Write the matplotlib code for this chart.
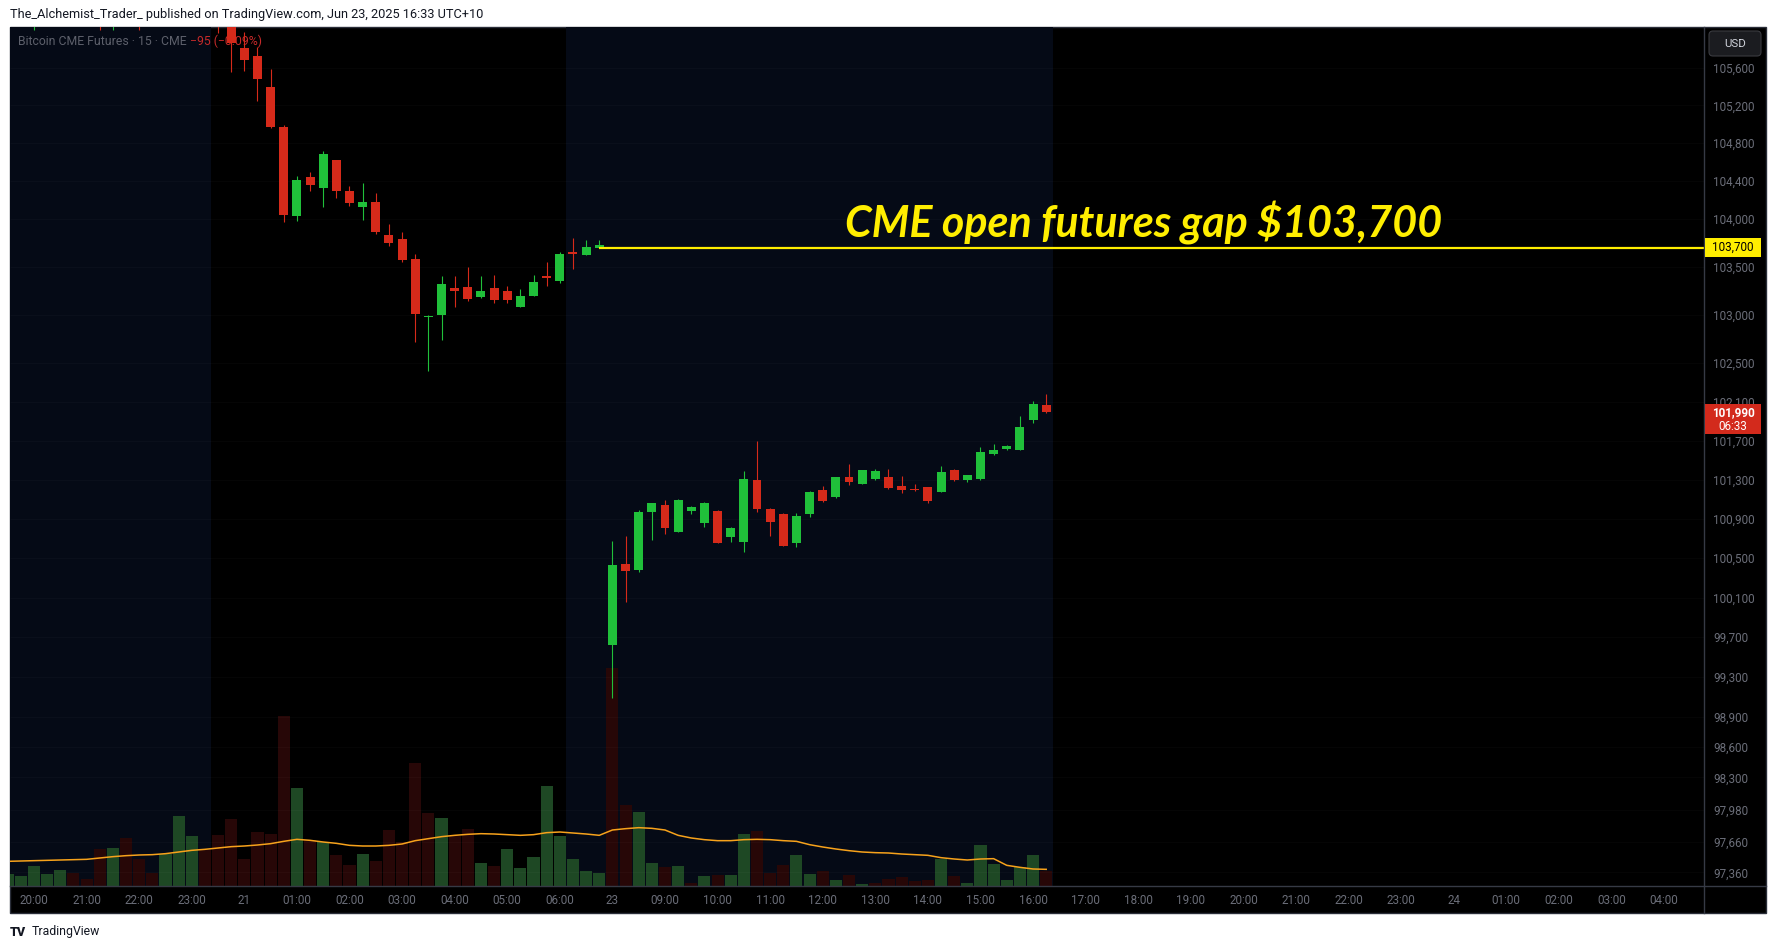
import matplotlib
matplotlib.use("Agg")
import matplotlib.pyplot as plt
import matplotlib.ticker as mticker
from matplotlib.patches import Rectangle, FancyBboxPatch
from matplotlib.transforms import Affine2D
import numpy as np

W, H = 1776, 949

# 15-minute bars of Bitcoin CME futures. Bar 0 is 20:00 on Jun 20 (UTC+10);
# the Friday session ends after bar 43 and bar 44 is the Monday 08:00 open.
first_bar = -2
opens = [106280, 106340, 106150, 106420, 106460, 106500, 106430, 106400, 106180, 106300,
         106200, 106090, 106070, 106150, 106250, 106300, 106120, 106040, 105808, 105726,
         105395, 104971, 104035, 104442, 104330, 104621, 104294, 104130, 104179, 103832,
         103790, 103581, 102972, 103000, 103278, 103288, 103184, 103278, 103247, 103077,
         103198, 103393, 103354, 103644, 103626, 103699, 99622, 100440, 100379, 100968,
         101040, 100764, 100978, 100856, 100978, 100714, 100663, 101295, 100999, 100948,
         100653, 100948, 101193, 101121, 101326, 101254, 101305, 101326, 101234, 101198,
         101223, 101172, 101397, 101295, 101305, 101561, 101613, 101603, 101911, 102065]
highs = [106420, 106450, 106470, 106520, 106560, 106540, 106470, 106440, 106360, 106330,
         106250, 106150, 106200, 106300, 106350, 106320, 106160, 106080, 105986, 105818,
         105584, 104992, 104452, 104495, 104717, 104625, 104347, 104379, 104273, 103947,
         103863, 103637, 102997, 103403, 103403, 103497, 103403, 103414, 103299, 103268,
         103414, 103549, 103654, 103800, 103780, 103780, 100673, 100724, 100989, 101065,
         101091, 101101, 101030, 101070, 100985, 100816, 101387, 101695, 101005, 100955,
         100958, 101178, 101234, 101330, 101459, 101402, 101408, 101408, 101336, 101254,
         101226, 101438, 101408, 101350, 101633, 101664, 101654, 101952, 102106, 102178]
lows = [106240, 106300, 106005, 106380, 106410, 106380, 106350, 106000, 106005, 106080,
        106000, 106050, 106050, 106100, 106200, 106060, 105968, 105559, 105569, 105250,
        104965, 103965, 103983, 104298, 104130, 104224, 104140, 103993, 103846, 103720,
        103553, 102720, 102420, 102741, 103083, 103146, 103174, 103125, 103125, 103077,
        103198, 103302, 103334, 103480, 103619, 103695, 99093, 100055, 100359, 100683,
        100744, 100760, 100948, 100816, 100650, 100663, 100561, 100968, 100724, 100618,
        100612, 100917, 101075, 101116, 101244, 101250, 101300, 101208, 101162, 101186,
        101060, 101168, 101290, 101275, 101300, 101556, 101603, 101598, 101880, 101985]
closes = [106340, 106380, 106420, 106460, 106500, 106430, 106400, 106180, 106300, 106200,
          106090, 106070, 106150, 106250, 106300, 106120, 106040, 105868, 105687, 105484,
          104974, 104045, 104410, 104358, 104685, 104298, 104172, 104179, 103867, 103752,
          103574, 103011, 102983, 103320, 103250, 103167, 103247, 103156, 103156, 103195,
          103341, 103386, 103633, 103637, 103706, 103724, 100429, 100369, 100968, 101060,
          100805, 101091, 101019, 101060, 100653, 100805, 101305, 100999, 100866, 100622,
          100928, 101172, 101080, 101326, 101275, 101397, 101387, 101213, 101193, 101190,
          101080, 101377, 101295, 101346, 101582, 101603, 101643, 101839, 102075, 101990]
volume = [36, 30, 60, 36, 48, 39, 21, 111, 114, 144,
          81, 39, 96, 210, 150, 108, 153, 201, 81, 162,
          156, 510, 294, 138, 132, 93, 63, 96, 75, 168,
          132, 369, 219, 204, 150, 171, 69, 60, 111, 54,
          87, 300, 150, 81, 45, 39, 654, 243, 222, 69,
          57, 60, 9, 30, 33, 33, 156, 165, 39, 63,
          93, 36, 45, 18, 33, 6, 9, 21, 27, 15,
          18, 81, 30, 9, 123, 66, 18, 57, 93, 45]
# g = volume bar drawn as up, r = down (close vs previous close)
volume_dir = "gggggrrrgr" "rrgggrrrrr" "rrgrgrrgrr" "rrrgrrgrgg" "ggggggrrgg" \
             "rgrgrggrrr" "ggrgrgrrrr" "rgrggggggr"
volume_ma = [74, 75, 76, 77, 78, 79, 80, 84, 88, 91,
             93, 94, 97, 102, 107, 110, 114, 118, 120, 123,
             127, 134, 140, 137, 132, 128, 122, 120, 120, 122,
             126, 136, 142, 148, 152, 155, 157, 156, 154, 152,
             154, 160, 162, 159, 156, 152, 168, 172, 175, 173,
             168, 152, 144, 139, 136, 136, 139, 140, 139, 136,
             134, 124, 117, 111, 106, 102, 100, 99, 96, 94,
             92, 85, 81, 78, 81, 82, 62, 56, 51, 50]

time_labels = ["20:00", "21:00", "22:00", "23:00", "21", "01:00", "02:00", "03:00",
               "04:00", "05:00", "06:00", "23", "09:00", "10:00", "11:00", "12:00",
               "13:00", "14:00", "15:00", "16:00", "17:00", "18:00", "19:00", "20:00",
               "21:00", "22:00", "23:00", "24", "01:00", "02:00", "03:00", "04:00"]
price_ticks = [105600, 105200, 104800, 104400, 104000, 103500, 103000, 102500, 102100,
               101700, 101300, 100900, 100500, 100100, 99700, 99300, 98900, 98600,
               98300, 97980, 97660, 97360]
gap_level = 103700
gap_start_bar = 43
last_price = 101990
countdown = "06:33"
session_breaks = [13.5, 40.5, 77.5]

GREEN = "#20c03a"
RED = "#d62a1a"
VOL_GREEN = "#1e4824"
VOL_RED = "#270707"
NAVY = "#050a16"
YELLOW = "#ffee00"
GRAY = "#6b6e79"
ORANGE = "#f7a21b"

plt.rcParams["font.family"] = ["Roboto", "DejaVu Sans"]

fig = plt.figure(figsize=(W / 100, H / 100), dpi=100, facecolor="white")
# pixel coords with origin at the top-left of the image
PX = Affine2D().scale(1, -1).translate(0, H).scale(1 / W, 1 / H) + fig.transFigure

fig.add_artist(Rectangle((10, 27), 1756, 886, transform=PX, facecolor="black",
                         edgecolor="#2a2e39", lw=1, zorder=-5))

rect = [10 / W, (H - 886) / H, 1694 / W, 859 / H]
xlim = (-1.826, 127.04)
ylim = (97227, 106036)

ax_vol = fig.add_axes(rect)
ax_vol.set_facecolor("black")
ax_vol.axvspan(xlim[0] - 1, session_breaks[0], color=NAVY, lw=0, zorder=0)
ax_vol.axvspan(session_breaks[1], session_breaks[2], color=NAVY, lw=0, zorder=0)

x = np.arange(first_bar, first_bar + len(closes))
vcol = [VOL_GREEN if d == "g" else VOL_RED for d in volume_dir]
ax_vol.bar(x, volume, width=0.92, color=vcol, lw=0, zorder=2)
ax_vol.plot(x, volume_ma, color=ORANGE, lw=1.1, zorder=3)
ax_vol.set_xlim(*xlim)
ax_vol.set_ylim(0, 859 * 3)
ax_vol.axis("off")

ax = fig.add_axes(rect)
ax.set_facecolor("none")
ax.set_yscale("log")
for s in ax.spines.values():
    s.set_visible(False)

o, h, l, c = (np.array(v, dtype=float) for v in (opens, highs, lows, closes))
col = np.where(c >= o, GREEN, RED)
ax.vlines(x, l, h, colors=col, lw=0.8, zorder=3)
lo = np.minimum(o, c)
hi = np.maximum(np.maximum(o, c), lo * 1.00012)
ax.bar(x, hi - lo, bottom=lo, width=0.68, color=col, lw=0, zorder=3.5)

ax.hlines(price_ticks, xlim[0], xlim[1], colors=(1, 1, 1, 0.022), lw=0.8, zorder=0.5)
ax.hlines(gap_level, gap_start_bar, xlim[1], colors=YELLOW, lw=1.6, zorder=4)

ax.set_xlim(*xlim)
ax.set_ylim(*ylim)
ax.yaxis.tick_right()
ax.set_yticks(price_ticks)
ax.set_yticklabels([f"{p:,}" for p in price_ticks])
ax.yaxis.set_minor_locator(mticker.NullLocator())
ax.set_xticks(np.arange(len(time_labels)) * 4)
ax.set_xticklabels(time_labels)
ax.tick_params(axis="y", which="both", length=0, pad=6.5, labelsize=8.4, labelcolor=GRAY)
ax.tick_params(axis="x", length=0, pad=6, labelsize=8.4, labelcolor=GRAY)

# symbol legend in the top-left corner, under the candles
ax.text(18, 41, "Bitcoin CME Futures · 15 · CME", transform=PX, fontsize=8.8,
        color="#5d606b", va="center", zorder=1)
ax.text(190, 41, "\u221295 (\u22120.09%)", transform=PX, fontsize=8.8,
        color="#c62a2a", va="center", zorder=1)

# separators of the price scale and time scale
fig.add_artist(plt.Line2D([1704, 1704], [27, 913], transform=PX, color="#363a45", lw=1))
fig.add_artist(plt.Line2D([10, 1766], [886, 886], transform=PX, color="#363a45", lw=1))

fig.text(845, 237, "CME open futures gap $103,700", transform=PX, fontsize=31,
         family=["Lato", "DejaVu Sans"], weight="bold", style="italic",
         color=YELLOW, va="baseline")

# price scale badges
y_gap = H - ax.transData.transform((0, gap_level))[1]
fig.add_artist(Rectangle((1705, y_gap - 9.5), 56, 19, transform=PX,
                         facecolor=YELLOW, lw=0, zorder=5))
fig.text(1733, y_gap, f"{gap_level:,}", transform=PX, fontsize=8.4, color="black",
         ha="center", va="center", zorder=6)

y_last = H - ax.transData.transform((0, last_price))[1]
fig.add_artist(Rectangle((1705, y_last - 8), 56, 30, transform=PX,
                         facecolor="#d32a1c", lw=0, zorder=5))
fig.text(1733, y_last, f"{last_price:,}", transform=PX, fontsize=8.4, color="white",
         weight="bold", ha="center", va="center", zorder=6)
fig.text(1733, y_last + 14, countdown, transform=PX, fontsize=8.4, color="white",
         ha="center", va="center", zorder=6)

fig.add_artist(FancyBboxPatch((1709, 31), 52, 25, transform=PX,
                              boxstyle="round,pad=0,rounding_size=4",
                              facecolor="#1b1c20", edgecolor="#3a3b40", lw=0.8, zorder=5))
fig.text(1735, 43.5, "USD", transform=PX, fontsize=8.2, color="#d1d4dc",
         ha="center", va="center", zorder=6)

fig.text(10, 14, "The_Alchemist_Trader_ published on TradingView.com, Jun 23, 2025 16:33 UTC+10",
         transform=PX, fontsize=9.2, color="#131722", va="center")
fig.text(10, 932, "TV", transform=PX, fontsize=9, weight="black", color="#131722", va="center")
fig.text(32, 932, "TradingView", transform=PX, fontsize=8.8, color="#131722", va="center")

fig.savefig("out.png", dpi=100, facecolor="white")
